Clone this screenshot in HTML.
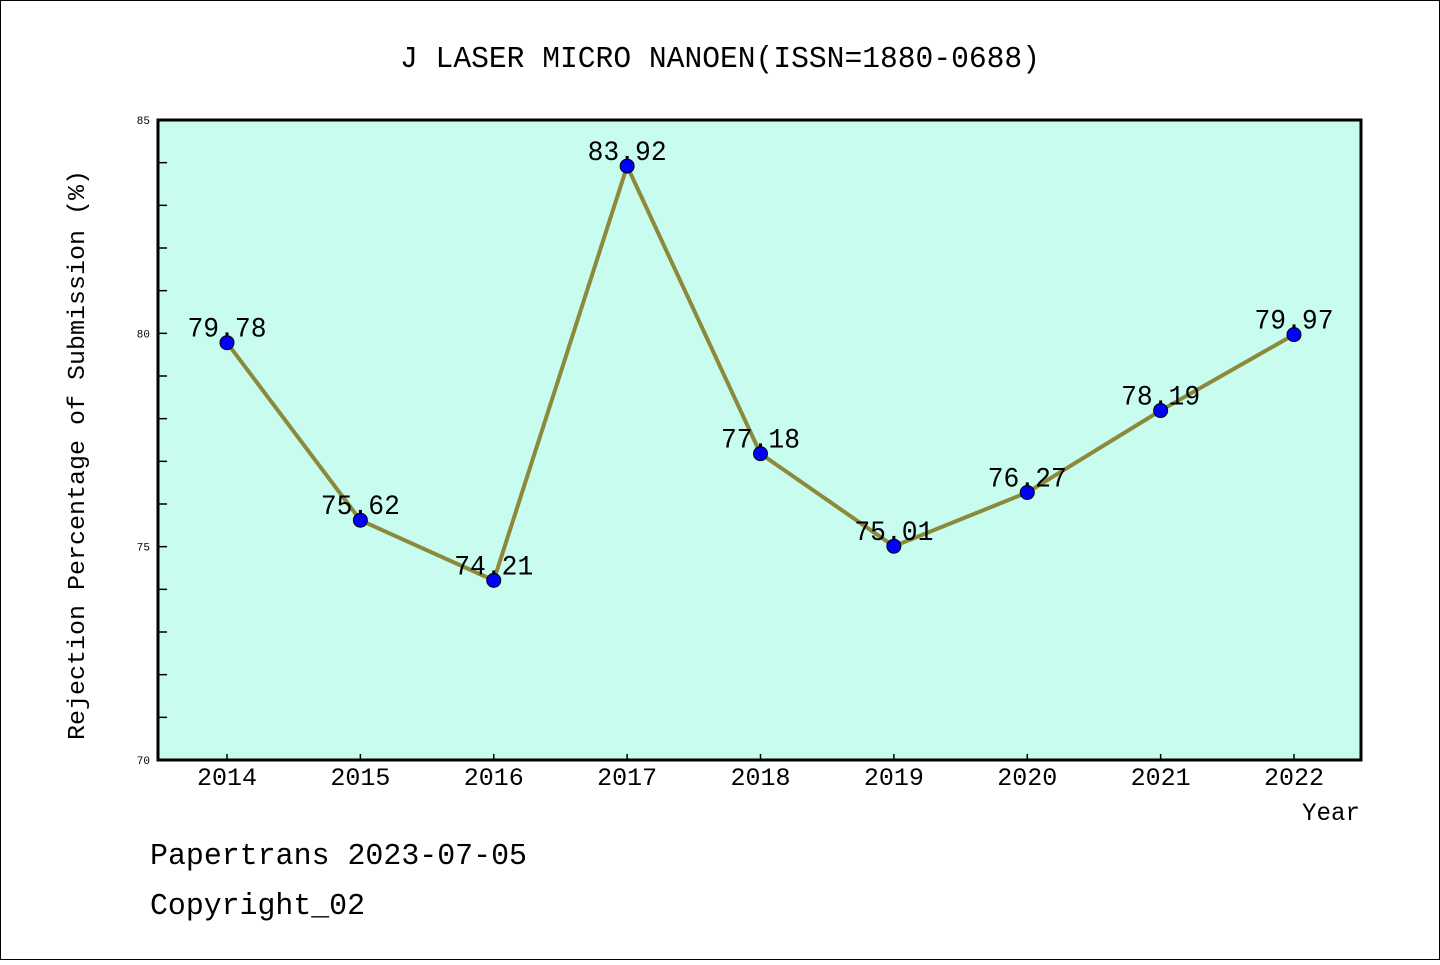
<!DOCTYPE html>
<html><head><meta charset="utf-8"><style>
body{margin:0;background:#fff}
svg text{font-family:"Liberation Mono","DejaVu Sans Mono",monospace}
</style></head><body>
<svg width="1440" height="960" xmlns="http://www.w3.org/2000/svg">
<rect x="0.5" y="0.5" width="1439" height="959" fill="#fff" stroke="#000"/>
<text x="400" y="67" font-size="31" textLength="640" lengthAdjust="spacingAndGlyphs">J LASER MICRO NANOEN(ISSN=1880-0688)</text>
<rect x="158" y="120" width="1203" height="640" fill="#c8fcee"/>
<g id="ticks"></g>
<polyline id="line" fill="none" stroke="#8c8a3a" stroke-width="4"/>
<g id="pts"></g>
<rect x="158" y="120" width="1203" height="640" fill="none" stroke="#000" stroke-width="3"/>
<text transform="translate(84,740) rotate(-90)" font-size="24" textLength="570" lengthAdjust="spacingAndGlyphs">Rejection Percentage of Submission (%)</text>
<text x="1302" y="820" font-size="25" textLength="58" lengthAdjust="spacingAndGlyphs">Year</text>
<text x="150" y="864" font-size="31" textLength="377" lengthAdjust="spacingAndGlyphs">Papertrans 2023-07-05</text>
<text x="150" y="914" font-size="31" textLength="215" lengthAdjust="spacingAndGlyphs">Copyright_02</text>
</svg>
<script>
const years=["2014","2015","2016","2017","2018","2019","2020","2021","2022"];
const values=[79.78,75.62,74.21,83.92,77.18,75.01,76.27,78.19,79.97];
const yTicks=[70,75,80,85];
const NS="http://www.w3.org/2000/svg";
const x0=227,dx=(1294-227)/8,yMin=70,yMax=85;
const xs=i=>x0+i*dx;
const ys=v=>760-(v-yMin)/(yMax-yMin)*640;
function mk(t,a,p){const e=document.createElementNS(NS,t);for(const k in a)e.setAttribute(k,a[k]);p.appendChild(e);return e;}
const tg=document.getElementById('ticks'),pg=document.getElementById('pts');
for(let v=yMin;v<=yMax;v++){const l=mk('line',{x1:158,x2:167,y1:ys(v),y2:ys(v),stroke:'#000','stroke-width':1.5},tg);

}
yTicks.forEach(v=>{const t=mk('text',{x:150,y:ys(v)+4,'font-size':11,'text-anchor':'end'},tg);t.textContent=v;

});
years.forEach((y,i)=>{const l=mk('line',{x1:xs(i),x2:xs(i),y1:760,y2:754,stroke:'#000','stroke-width':1.5},tg);


const t=mk('text',{x:xs(i),y:785,'font-size':25,'text-anchor':'middle',textLength:60,lengthAdjust:'spacingAndGlyphs'},tg);t.textContent=y;

});
document.getElementById('line').setAttribute('points',values.map((v,i)=>xs(i)+','+ys(v)).join(' '));
values.forEach((v,i)=>{const c=mk('circle',{cx:xs(i),cy:ys(v),r:7,fill:'#0000ff',stroke:'#000','stroke-width':1},pg);


const t=mk('text',{x:xs(i),y:ys(v)-6,'font-size':28,'text-anchor':'middle',textLength:79,lengthAdjust:'spacingAndGlyphs'},pg);t.textContent=v.toFixed(2);

});
</script>
</body></html>
